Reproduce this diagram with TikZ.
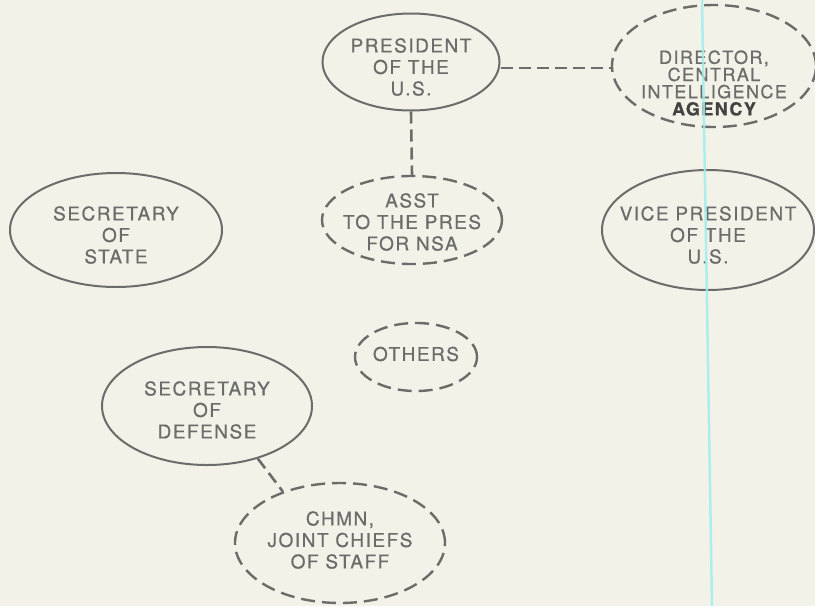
\documentclass[tikz,border=0pt]{standalone}
\usepackage{fontspec}
\usetikzlibrary{shapes.geometric}
\newfontfamily\orgfont[LetterSpace=8,FakeBold=0.6]{TeX Gyre Heros}
\definecolor{paper}{RGB}{242,242,233}
\definecolor{ink}{RGB}{108,108,106}
\definecolor{inkdark}{RGB}{66,66,64}
\definecolor{scanline}{RGB}{160,238,236}

\begin{document}
\begin{tikzpicture}[x=1pt,y=-1pt,
  office/.style={ellipse,draw=ink,line width=2pt,inner sep=0pt},
  staff/.style={office,line width=2.4pt,dash pattern=on 14pt off 7pt},
  lbl/.style={font=\orgfont\fontsize{19}{21.5}\selectfont,text=ink,align=center,inner sep=0pt},
  link/.style={draw=ink,line width=2.6pt,dash pattern=on 12pt off 6pt}]
 \fill[paper] (0,0) rectangle (815,606);
 \useasboundingbox (0,0) rectangle (815,606);

 % the offices
 \node[office,minimum width=177pt,minimum height=97pt] (pres) at (411,62) {};
 \node[staff,minimum width=204pt,minimum height=122pt] (dir) at (714,66) {};
 \node[staff,minimum width=180pt,minimum height=88pt] (asst) at (412,220) {};
 \node[office,minimum width=212pt,minimum height=114pt] (sos) at (116,230) {};
 \node[office,minimum width=212pt,minimum height=120pt] (vp) at (708,230) {};
 \node[staff,minimum width=122pt,minimum height=68pt] (oth) at (416,357) {};
 \node[office,minimum width=210pt,minimum height=118pt] (sod) at (207,406) {};
 \node[staff,minimum width=210pt,minimum height=120pt] (chmn) at (340,543) {};

 \node[lbl] (pres-t) at (411,67) {PRESIDENT\\OF THE\\U.S.};
 \node[lbl,font=\orgfont\fontsize{18}{17.2}\selectfont] (dir-t) at (714,83)
   {DIRECTOR,\\CENTRAL\\INTELLIGENCE\\{\bfseries\color{inkdark}AGENCY}};
 \node[lbl] (asst-t) at (412,222) {ASST\\TO THE PRES\\FOR NSA};
 \node[lbl] (sos-t) at (116,235) {SECRETARY\\OF\\STATE};
 \node[lbl] (vp-t) at (708,235) {VICE PRESIDENT\\OF THE\\U.S.};
 \node[lbl] (oth-t) at (416,354) {OTHERS};
 \node[lbl] (sod-t) at (207,410) {SECRETARY\\OF\\DEFENSE};
 \node[lbl] (chmn-t) at (340,540) {CHMN,\\JOINT CHIEFS\\OF STAFF};

 % links
 \draw[link] ([yshift=-6pt]pres.east) -- ([yshift=-6pt]pres.east -| dir.west);
 \draw[link] (pres.south) -- (asst.north);
 \draw[link] (sod.-46) -- (chmn.138);

 \draw[scanline,opacity=0.85,line width=2.5pt] (702,0) -- (712,606);
\end{tikzpicture}
\end{document}
